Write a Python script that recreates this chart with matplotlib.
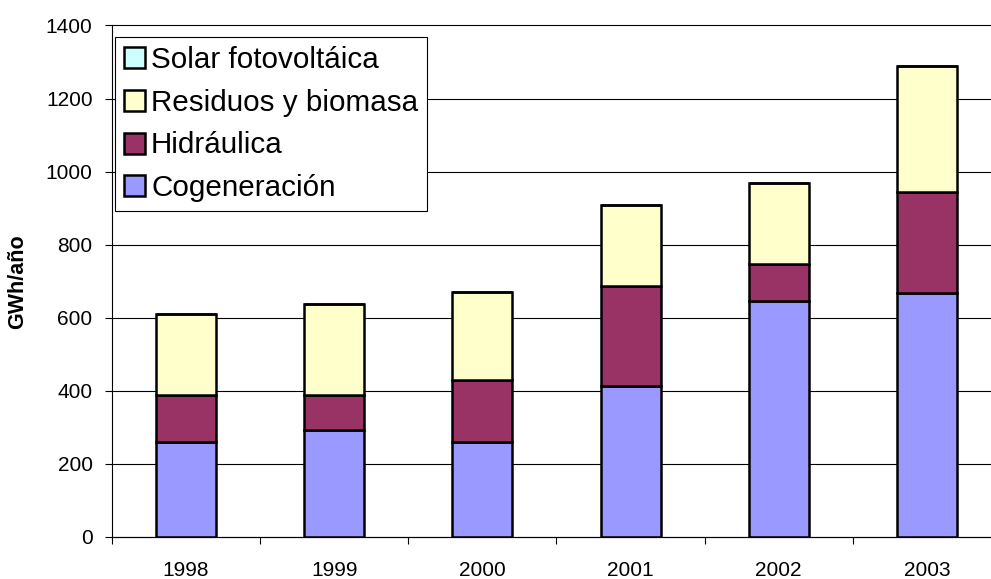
import matplotlib.pyplot as plt
import numpy as np

plt.rcParams['font.family'] = ['Liberation Sans', 'DejaVu Sans']

years = ['1998', '1999', '2000', '2001', '2002', '2003']
cogeneracion = [259, 292, 260, 413, 647, 669]
hidraulica = [130, 97, 169, 274, 99, 274]
residuos = [220, 249, 242, 222, 222, 346]
solar = [0.3, 0.3, 0.3, 0.5, 0.5, 0.5]

x = np.arange(len(years))
W, H = 991, 579
fig = plt.figure(figsize=(W / 100, H / 100), dpi=100)
ax = fig.add_axes([112 / W, 1 - 537 / H, (1001 - 112) / W, (537 - 25.5) / H])

ax.set_axisbelow(True)
ax.yaxis.grid(True, color='black', linewidth=0.8)

bw = 0.405
kw = dict(width=bw, edgecolor='black', linewidth=1.8)
b1 = ax.bar(x, cogeneracion, color='#9999FF', label='Cogeneración', **kw)
bot = np.array(cogeneracion, dtype=float)
b2 = ax.bar(x, hidraulica, bottom=bot, color='#993366', label='Hidráulica', **kw)
bot += hidraulica
b3 = ax.bar(x, residuos, bottom=bot, color='#FFFFCC', label='Residuos y biomasa', **kw)
bot += residuos
b4 = ax.bar(x, solar, bottom=bot, color='#CCFFFF', label='Solar fotovoltáica', **kw)

ax.set_xlim(-0.5, len(years) - 0.5)
ax.set_ylim(0, 1400)
ax.set_yticks(range(0, 1401, 200))
ax.tick_params(axis='y', labelsize=15, length=5, width=0.8, pad=9, color='black')
for gl in ax.get_ygridlines():
    gl.set_clip_on(False)

ax.set_xticks(np.arange(-0.5, len(years), 1.0))
ax.set_xticklabels([])
ax.set_xticks(x, minor=True)
ax.set_xticklabels(years, minor=True)
ax.tick_params(axis='x', which='major', length=5, width=0.8, color='black')
ax.tick_params(axis='x', which='minor', length=0, labelsize=15, pad=17)

for s in ['top', 'right']:
    ax.spines[s].set_visible(False)
ax.spines['left'].set_linewidth(0.8)
ax.spines['bottom'].set_linewidth(0.8)

ax.set_ylabel('GWh/año', fontsize=15.5, fontweight='bold')
ax.yaxis.set_label_coords(-0.094, 0.5)

leg = ax.legend(handles=[b4, b3, b2, b1], loc='upper left',
                bbox_to_anchor=(115 / W, 1 - 37 / H), bbox_transform=fig.transFigure,
                fontsize=21.3, frameon=True, fancybox=False, edgecolor='black',
                framealpha=1, borderpad=0.3, handlelength=0.72, handleheight=0.72,
                handletextpad=0.2, labelspacing=0.5, borderaxespad=0)
leg.get_frame().set_linewidth(0.8)

fig.savefig('out.png', dpi=100)
